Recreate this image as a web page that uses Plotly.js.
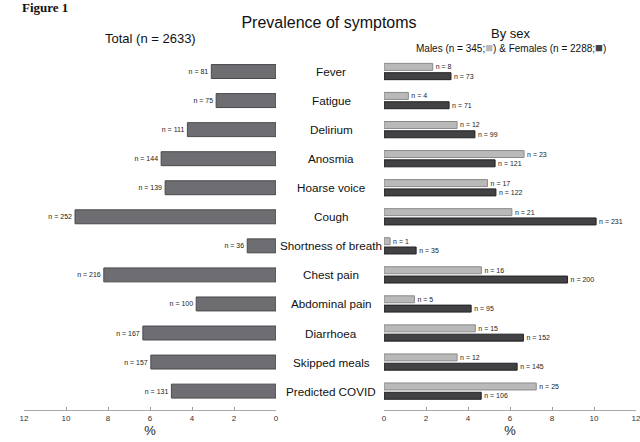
<!DOCTYPE html>
<html>
<head>
<meta charset="utf-8">
<script src="https://cdn.plot.ly/plotly-3.0.1.min.js"></script>
<style>html,body{margin:0;padding:0;background:#fff;}#chart{width:640px;height:442px;}</style>
</head>
<body>
<div id="chart"></div>
<script>
// Symptom categories (top to bottom)
var symptoms = ["Fever","Fatigue","Delirium","Anosmia","Hoarse voice","Cough","Shortness of breath","Chest pain","Abdominal pain","Diarrhoea","Skipped meals","Predicted COVID"];

// Total (n = 2633): counts and percentages
var totalN   = [81, 75, 111, 144, 139, 252, 36, 216, 100, 167, 157, 131];
var totalPct = [3.08, 2.85, 4.22, 5.47, 5.28, 9.57, 1.37, 8.20, 3.80, 6.34, 5.96, 4.98];

// Males (n = 345)
var maleN   = [8, 4, 12, 23, 17, 21, 1, 16, 5, 15, 12, 25];
var malePct = [2.32, 1.16, 3.48, 6.67, 4.93, 6.09, 0.29, 4.64, 1.45, 4.35, 3.48, 7.25];

// Females (n = 2288)
var femaleN   = [73, 71, 99, 121, 122, 231, 35, 200, 95, 152, 145, 106];
var femalePct = [3.19, 3.10, 4.33, 5.29, 5.33, 10.10, 1.53, 8.74, 4.15, 6.64, 6.34, 4.63];

// Axis ticks
var tickValues = [0, 2, 4, 6, 8, 10, 12];

function labels(arr){ return arr.map(function(n){ return "n = " + n; }); }

var FONT = "Liberation Sans, Arial, Helvetica, sans-serif";

var traces = [
  {
    type: "bar", orientation: "h", x: totalPct, y: symptoms,
    xaxis: "x", yaxis: "y",
    marker: {color: "#6e6e72", line: {color: "#4a4a4d", width: 1}},
    text: labels(totalN), textposition: "outside", constraintext: "none",
    cliponaxis: false, textfont: {size: 7, color: "#222", family: FONT},
    hoverinfo: "skip", showlegend: false
  },
  {
    type: "bar", orientation: "h", x: malePct, y: symptoms,
    xaxis: "x2", yaxis: "y",
    marker: {color: "#b9b9b9", line: {color: "#8a8a8a", width: 1}},
    text: labels(maleN), textposition: "outside", constraintext: "none",
    cliponaxis: false, textfont: {size: 7, color: "#222", family: FONT},
    hoverinfo: "skip", showlegend: false
  },
  {
    type: "bar", orientation: "h", x: femalePct, y: symptoms,
    xaxis: "x2", yaxis: "y",
    marker: {color: "#424245", line: {color: "#222224", width: 1}},
    text: labels(femaleN), textposition: "outside", constraintext: "none",
    cliponaxis: false, textfont: {size: 7, color: "#222", family: FONT},
    hoverinfo: "skip", showlegend: false
  }
];

var axisCommon = {
  tickvals: tickValues, ticktext: tickValues.map(String),
  ticks: "inside", ticklen: 3, tickcolor: "#999", tickwidth: 1,
  showline: true, linecolor: "#aaa", linewidth: 1,
  showgrid: false, zeroline: false, fixedrange: true,
  tickfont: {size: 8, color: "#333", family: FONT},
  ticklabeloverflow: "allow",
  anchor: "y"
};

var catAnn = symptoms.map(function(s){
  return {text: s, x: 331/640, xref: "paper", y: s, yref: "y",
          xanchor: "center", yanchor: "middle", showarrow: false,
          font: {size: 11.7, color: "#111", family: FONT}};
});

var layout = {
  width: 640, height: 442,
  margin: {l: 0, r: 0, t: 57, b: 32, pad: 0},
  paper_bgcolor: "#fff", plot_bgcolor: "#fff",
  barmode: "group", bargap: 0.36, bargroupgap: 0.25,
  title: {text: "Prevalence of symptoms", x: 329/640, xanchor: "center",
          y: 1 - 22/442, yanchor: "middle", yref: "container",
          font: {size: 16, color: "#111", family: FONT}},
  xaxis: Object.assign({}, axisCommon, {
    domain: [24/640, 276/640], range: [12, 0],
    title: {text: "%", font: {size: 13, color: "#222", family: FONT}, standoff: 2}
  }),
  xaxis2: Object.assign({}, axisCommon, {
    domain: [384/640, 636/640], range: [0, 12],
    title: {text: "%", font: {size: 13, color: "#222", family: FONT}, standoff: 2}
  }),
  yaxis: {
    type: "category", categoryarray: symptoms, categoryorder: "array",
    range: [11.65, -0.5], domain: [0, 1],
    showticklabels: false, showgrid: false, zeroline: false, showline: false,
    ticks: "", fixedrange: true
  },
  annotations: catAnn.concat([
    {text: "<b>Figure 1</b>", x: 20/640, xref: "paper", xanchor: "left",
     y: 1 - 9/442, yref: "paper", yanchor: "middle", showarrow: false,
     font: {size: 13, color: "#111", family: "Liberation Serif, Times New Roman, serif"}, yshift: 57},
    {text: "Total (n = 2633)", x: 150/640, xref: "paper", xanchor: "center",
     y: 1, yref: "paper", yanchor: "middle", yshift: 57 - 38, showarrow: false,
     font: {size: 13, color: "#111", family: FONT}},
    {text: "By sex", x: 511/640, xref: "paper", xanchor: "center",
     y: 1, yref: "paper", yanchor: "middle", yshift: 57 - 33, showarrow: false,
     font: {size: 13, color: "#111", family: FONT}},
    {text: 'Males (n = 345;<span style="color:#b9b9b9;font-size:13px">■</span>) & Females (n = 2288;<span style="color:#424245;font-size:13px">■</span>)',
     x: 511/640, xref: "paper", xanchor: "center",
     y: 1, yref: "paper", yanchor: "middle", yshift: 57 - 47, showarrow: false,
     font: {size: 10, color: "#111", family: FONT}}
  ])
};

Plotly.newPlot("chart", traces, layout, {staticPlot: true, displayModeBar: false});
</script>
</body>
</html>
